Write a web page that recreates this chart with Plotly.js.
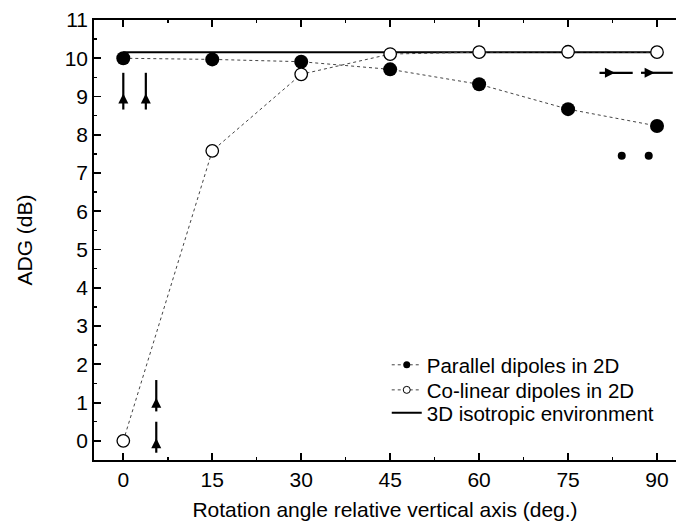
<!DOCTYPE html>
<html>
<head>
<meta charset="utf-8">
<script src="https://cdn.plot.ly/plotly-3.0.1.min.js"></script>
<style>html,body{margin:0;padding:0;background:#fff;}#chart{width:676px;height:527px;}</style>
</head>
<body>
<div id="chart"></div>
<script>
// ---- data ----
const angles = [0, 15, 30, 45, 60, 75, 90];
const parallel2D = [10.0, 9.97, 9.91, 9.71, 9.32, 8.67, 8.23];
const colinear2D = [0.0, 7.58, 9.58, 10.11, 10.16, 10.17, 10.16];
const isoX = [0, 90];
const isoY = [10.16, 10.16];
const seriesNames = ["Parallel dipoles in 2D", "Co-linear dipoles in 2D", "3D isotropic environment"];
const xTicks = [0, 15, 30, 45, 60, 75, 90];
const yTicks = [0, 1, 2, 3, 4, 5, 6, 7, 8, 9, 10, 11];

// dipole symbols: [x, yStart, yEnd, headY] vertical, [y, xStart, xEnd, headX] horizontal
const vDipoles = [[0, 8.66, 9.62, 9.08], [3.8, 8.66, 9.62, 9.08], [5.56, 0.77, 1.59, 1.13], [5.56, -0.31, 0.50, 0.07]];
const hDipoles = [[9.62, 80.3, 85.9, 82.9], [9.62, 87.3, 92.65, 89.6]];
const dotX = [84.05, 88.6];
const dotY = [7.45, 7.45];

const FONT = "Liberation Sans, Arial, sans-serif";

function segs(list, vertical) {
  const xs = [], ys = [];
  list.forEach(d => {
    if (vertical) { xs.push(d[0], d[0], null); ys.push(d[1], d[2], null); }
    else { xs.push(d[1], d[2], null); ys.push(d[0], d[0], null); }
  });
  return {xs, ys};
}
const vs = segs(vDipoles, true), hs = segs(hDipoles, false);

const dotLine = {color: "#444", width: 1, dash: "dot"};

const traces = [
  {x: isoX, y: isoY, mode: "lines", line: {color: "#000", width: 2}, showlegend: false, hoverinfo: "skip"},
  {x: angles, y: parallel2D, mode: "lines+markers", showlegend: false, line: dotLine,
   marker: {symbol: "circle", size: 14, color: "#000", line: {width: 0}}},
  {x: angles, y: colinear2D, mode: "lines+markers", showlegend: false, line: dotLine,
   marker: {symbol: "circle", size: 12.5, color: "#fff", line: {color: "#000", width: 1.3}}},
  {x: vs.xs, y: vs.ys, mode: "lines", line: {color: "#000", width: 2.2}, showlegend: false, hoverinfo: "skip"},
  {x: hs.xs, y: hs.ys, mode: "lines", line: {color: "#000", width: 2.2}, showlegend: false, hoverinfo: "skip"},
  {x: vDipoles.map(d => d[0]), y: vDipoles.map(d => d[3]), mode: "markers", showlegend: false, hoverinfo: "skip",
   marker: {symbol: "arrow-up", size: 10, color: "#000", line: {width: 0}}},
  {x: hDipoles.map(d => d[3]), y: hDipoles.map(d => d[0]), mode: "markers", showlegend: false, hoverinfo: "skip",
   marker: {symbol: "arrow-right", size: 10, color: "#000", line: {width: 0}}},
  {x: dotX, y: dotY, mode: "markers", showlegend: false, hoverinfo: "skip",
   marker: {symbol: "circle", size: 8, color: "#000"}},
  // legend-only entries
  {x: [null], y: [null], mode: "lines+markers", name: seriesNames[0], legend: "legend",
   line: dotLine, marker: {size: 7, color: "#000"}},
  {x: [null], y: [null], mode: "lines+markers", name: seriesNames[1], legend: "legend2",
   line: dotLine, marker: {size: 7, color: "#fff", line: {color: "#000", width: 1}}},
  {x: [null], y: [null], mode: "lines", name: seriesNames[2], legend: "legend3",
   line: {color: "#000", width: 2}}
];

function leg(y) {
  return {x: 0.503, y: y, xanchor: "left", yanchor: "middle", bgcolor: "rgba(0,0,0,0)",
          font: {family: FONT, size: 20.5, color: "#000"}};
}

const layout = {
  width: 676, height: 527,
  margin: {l: 94, r: 0, t: 20, b: 67},
  paper_bgcolor: "#fff", plot_bgcolor: "#fff",
  font: {family: FONT, size: 21, color: "#000"},
  showlegend: true,
  legend: leg(0.216), legend2: leg(0.159), legend3: leg(0.107),
  xaxis: {
    range: [-4.94, 93.2], tickvals: xTicks, ticktext: xTicks.map(String),
    showgrid: false, zeroline: false, showline: true, linecolor: "#000", linewidth: 1.8,
    mirror: "ticks", ticks: "inside", ticklen: 7, tickwidth: 1.8, tickcolor: "#000",
    minor: {dtick: 7.5, tick0: 0, ticks: "inside", ticklen: 3, tickwidth: 1.5, tickcolor: "#000"},
    title: {text: "Rotation angle relative vertical axis (deg.)", font: {family: FONT, size: 21}, standoff: 12},
    tickfont: {family: FONT, size: 21}
  },
  yaxis: {
    range: [-0.5, 11], tickvals: yTicks, ticktext: yTicks.map(String),
    showgrid: false, zeroline: false, showline: true, linecolor: "#000", linewidth: 1.8,
    mirror: false, ticks: "inside", ticklen: 7, tickwidth: 1.8, tickcolor: "#000",
    minor: {dtick: 0.5, tick0: 0, ticks: "inside", ticklen: 3, tickwidth: 1.5, tickcolor: "#000"},
    title: {text: "ADG (dB)", font: {family: FONT, size: 21}, standoff: 26},
    tickfont: {family: FONT, size: 21}
  }
};

Plotly.newPlot("chart", traces, layout, {displayModeBar: false, staticPlot: true});
</script>
</body>
</html>
